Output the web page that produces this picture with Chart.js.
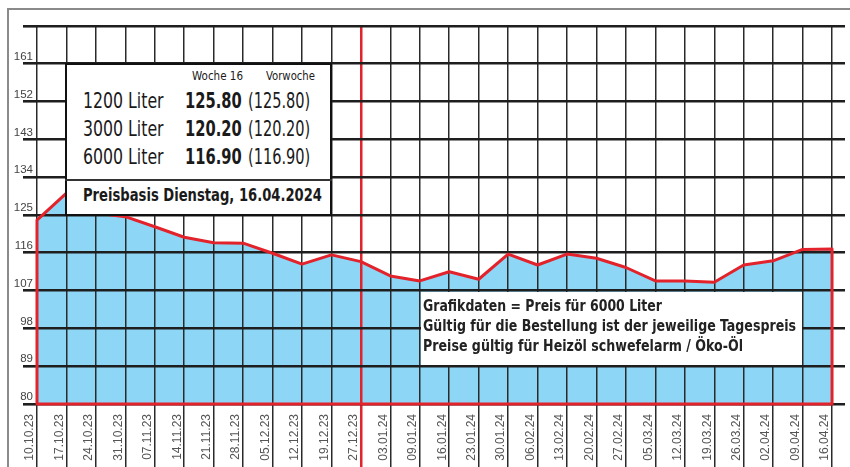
<!DOCTYPE html>
<html><head><meta charset="utf-8">
<script src="https://cdn.jsdelivr.net/npm/chart.js@4.4.1/dist/chart.umd.min.js"></script>
<style>
html,body{margin:0;padding:0;background:#fff;}
#wrap{position:relative;width:850px;height:467px;overflow:hidden;}
canvas{position:absolute;left:0;top:0;}
.frame{position:absolute;left:7px;top:8px;width:900px;height:500px;border-top:2px solid #8a8a8a;border-left:2px solid #8a8a8a;}
.box{position:absolute;background:#fff;box-sizing:border-box;}
.t{position:absolute;white-space:nowrap;line-height:1;transform-origin:0 50%;font-family:"Liberation Sans Narrow","DejaVu Sans Condensed","Liberation Sans",sans-serif;color:#1a1a1a;}
</style></head><body>
<div id="wrap"><canvas id="c" width="850" height="467"></canvas><div class="frame"></div><div id="ov"></div></div>
<script>
// ---- data ----
const labels = ['10.10.23','17.10.23','24.10.23','31.10.23','07.11.23','14.11.23','21.11.23','28.11.23','05.12.23','12.12.23','19.12.23','27.12.23','03.01.24','09.01.24','16.01.24','23.01.24','30.01.24','06.02.24','13.02.24','20.02.24','27.02.24','05.03.24','12.03.24','19.03.24','26.03.24','02.04.24','09.04.24','16.04.24'];
const prices = [123.8,130.2,125.5,124.6,122.2,119.7,118.4,118.3,115.9,113.3,115.5,113.9,110.5,109.3,111.5,109.7,115.7,113.1,115.7,114.7,112.5,109.3,109.3,109.0,113.1,114.1,116.8,116.9];
const yTicks = [80,89,98,107,116,125,134,143,152,161,170];
const highlightIndex = 11; // 27.12.23 marker
const headerCols = ['Woche 16','Vorwoche'];
const volumes = ['1200 Liter','3000 Liter','6000 Liter'];
const currentWeek = ['125.80','120.20','116.90'];
const previousWeek = ['(125.80)','(120.20)','(116.90)'];
const basisText = 'Preisbasis Dienstag, 16.04.2024';
const noteLines = ['Grafikdaten = Preis für 6000 Liter','Gültig für die Bestellung ist der jeweilige Tagespreis','Preise gültig für Heizöl schwefelarm / Öko-Öl'];

const RED = '#e3232b';
const yMin = yTicks[0], yMax = yTicks[yTicks.length-1];
const last = prices.length - 1;
const areaPts = prices.map((v,i)=>({x:i,y:v}));
const outlinePts = [{x:0,y:yMin}].concat(areaPts, [{x:last,y:yMin},{x:0,y:yMin}]);

Chart.defaults.font.family = '"Liberation Sans", Arial, sans-serif';

const outlinePlugin = {
  id:'outlineTop',
  beforeDatasetDraw(chart,args){ if(args.index===1) return false; },
  afterDraw(chart){
    const meta = chart.getDatasetMeta(1);
    chart.ctx.save();
    meta.controller.draw();
    chart.ctx.restore();
  }
};

const chart = new Chart(document.getElementById('c'), {
  type:'line',
  data:{datasets:[
    {data:areaPts, fill:'start', backgroundColor:'#8dd6f6', borderWidth:0, pointRadius:0, tension:0},
    {data:outlinePts, fill:false, borderColor:RED, borderWidth:3, pointRadius:0, tension:0, borderJoinStyle:'round', borderCapStyle:'round'}
  ]},
  options:{
    responsive:false, animation:false, devicePixelRatio:1,
    layout:{padding:{left:0,top:26,right:5,bottom:0}},
    plugins:{legend:{display:false},tooltip:{enabled:false}},
    scales:{
      x:{type:'linear', min:0, max:last+0.44,
        afterBuildTicks:s=>{ s.ticks = labels.map((_,i)=>({value:i})); },
        afterFit:s=>{ s.height = 63; },
        grid:{z:1, color:c=>(c.tick && c.tick.value===highlightIndex)?RED:'#2a2a2a',
              lineWidth:c=>(c.tick && c.tick.value===highlightIndex)?2.5:1.5,
              tickLength:63},
        border:{display:false},
        ticks:{autoSkip:false, minRotation:90, maxRotation:90, padding:-53, labelOffset:-7, color:'#555', font:{size:12},
               callback:v=>labels[v]}
      },
      y:{min:yMin, max:yMax,
        afterBuildTicks:s=>{ s.ticks = yTicks.map(v=>({value:v})); },
        afterFit:s=>{ s.width = 37; },
        grid:{z:1, color:'#1e1e1e', lineWidth:2.6, tickLength:14},
        border:{display:false},
        ticks:{padding:-10, labelOffset:-7, color:'#444', font:{size:11.5},
               callback:v=> v===yMax ? '' : String(v)}
      }
    }
  },
  plugins:[outlinePlugin]
});

// ---- overlay boxes ----
const ov = document.getElementById('ov');
const X = v=>chart.scales.x.getPixelForValue(v);
const Y = v=>chart.scales.y.getPixelForValue(v);
function box(l,t,r,b,extra){
  const d=document.createElement('div'); d.className='box';
  d.style.left=l+'px'; d.style.top=t+'px'; d.style.width=(r-l)+'px'; d.style.height=(b-t)+'px';
  if(extra) Object.assign(d.style,extra);
  ov.appendChild(d); return d;
}
function txt(s,x,cy,fs,bold,w,color){
  const d=document.createElement('div'); d.className='t'; d.textContent=s;
  d.style.left=x+'px'; d.style.top=(cy-fs/2)+'px'; d.style.fontSize=fs+'px';
  d.style.fontWeight=bold?'bold':'normal';
  if(color) d.style.color=color;
  ov.appendChild(d);
  const aw=d.getBoundingClientRect().width;
  if(w && aw>0) d.style.transform='scaleX('+(w/aw)+')';
  return d;
}
// info box
const b1l=X(1)-1, b1r=X(10)+0.5, b1t=Y(161)-1, b1b=Y(125)+1;
box(b1l,b1t,b1r,b1b,{border:'2px solid #111'});
box(b1l,179,b1r,180.5,{background:'#333'});
txt(headerCols[0],191.7,76.5,12.5,false,51);
txt(headerCols[1],266,76.5,12.5,false,49);
const rowY=[101.7,129.3,157.3];
for(let i=0;i<volumes.length;i++){
  txt(volumes[i],82.7,rowY[i],21,false,80.6);
  txt(currentWeek[i],185,rowY[i],21,true,56.7);
  txt(previousWeek[i],247.7,rowY[i],21,false,62.3);
}
txt(basisText,82.7,195,17,true,239);
// note box
box(X(13)+0.8, Y(107)+1.3, X(26)-0.8, Y(89)-1.3);
const noteY=[306.7,326.7,346.7], noteW=[239,373,320];
for(let i=0;i<noteLines.length;i++) txt(noteLines[i],422.7,noteY[i],15,true,noteW[i],'#222');
</script>
</body></html>
